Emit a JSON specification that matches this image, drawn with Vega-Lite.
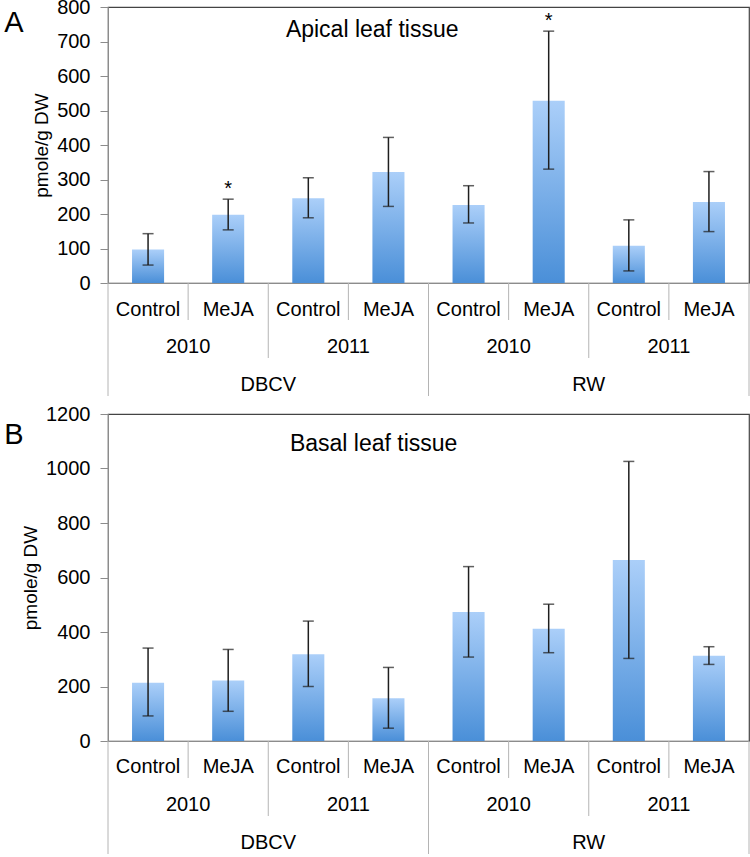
{
  "$schema": "https://vega.github.io/schema/vega-lite/v6.json",
  "background": "white",
  "padding": {"left": 3, "top": -4, "right": 0, "bottom": 0},
  "config": {
    "font": "Liberation Sans",
    "view": {"stroke": "#444", "strokeWidth": 1.2},
    "axis": {"grid": false},
    "axisY": {"titleFontSize": 19, "titleFontWeight": "normal", "titleColor": "#000", "titlePadding": 5, "labelFontSize": 20, "labelColor": "#000", "labelPadding": 10, "tickSize": 8, "tickColor": "#8c8c8c", "domainColor": "#8c8c8c", "labelOverlap": false, "format": "d", "tickCount": 30}
  },
  "datasets": {
    "apical": [
      {"cultivar": "DBCV", "year": "2010", "treatment": "Control", "key": "DBCV 2010 Control", "value": 97, "lo": 52, "hi": 143, "star": ""},
      {"cultivar": "DBCV", "year": "2010", "treatment": "MeJA", "key": "DBCV 2010 MeJA", "value": 198, "lo": 154, "hi": 243, "star": "*"},
      {"cultivar": "DBCV", "year": "2011", "treatment": "Control", "key": "DBCV 2011 Control", "value": 246, "lo": 189, "hi": 305, "star": ""},
      {"cultivar": "DBCV", "year": "2011", "treatment": "MeJA", "key": "DBCV 2011 MeJA", "value": 322, "lo": 222, "hi": 422, "star": ""},
      {"cultivar": "RW", "year": "2010", "treatment": "Control", "key": "RW 2010 Control", "value": 226, "lo": 174, "hi": 282, "star": ""},
      {"cultivar": "RW", "year": "2010", "treatment": "MeJA", "key": "RW 2010 MeJA", "value": 528, "lo": 330, "hi": 730, "star": "*"},
      {"cultivar": "RW", "year": "2011", "treatment": "Control", "key": "RW 2011 Control", "value": 108, "lo": 35, "hi": 183, "star": ""},
      {"cultivar": "RW", "year": "2011", "treatment": "MeJA", "key": "RW 2011 MeJA", "value": 235, "lo": 149, "hi": 323, "star": ""}
    ],
    "basal": [
      {"cultivar": "DBCV", "year": "2010", "treatment": "Control", "key": "DBCV 2010 Control", "value": 214, "lo": 92, "hi": 341, "star": ""},
      {"cultivar": "DBCV", "year": "2010", "treatment": "MeJA", "key": "DBCV 2010 MeJA", "value": 222, "lo": 109, "hi": 336, "star": ""},
      {"cultivar": "DBCV", "year": "2011", "treatment": "Control", "key": "DBCV 2011 Control", "value": 318, "lo": 200, "hi": 440, "star": ""},
      {"cultivar": "DBCV", "year": "2011", "treatment": "MeJA", "key": "DBCV 2011 MeJA", "value": 157, "lo": 47, "hi": 270, "star": ""},
      {"cultivar": "RW", "year": "2010", "treatment": "Control", "key": "RW 2010 Control", "value": 473, "lo": 308, "hi": 640, "star": ""},
      {"cultivar": "RW", "year": "2010", "treatment": "MeJA", "key": "RW 2010 MeJA", "value": 412, "lo": 324, "hi": 502, "star": ""},
      {"cultivar": "RW", "year": "2011", "treatment": "Control", "key": "RW 2011 Control", "value": 664, "lo": 303, "hi": 1026, "star": ""},
      {"cultivar": "RW", "year": "2011", "treatment": "MeJA", "key": "RW 2011 MeJA", "value": 313, "lo": 281, "hi": 346, "star": ""}
    ]
  },
  "resolve": {"scale": {"x": "independent", "y": "independent"}},
  "spacing": 5,
  "vconcat": [
    {
      "width": 641,
      "height": 276,
      "data": {"name": "apical"},
      "encoding": {
        "x": {"field": "key", "type": "nominal", "scale": {"domain": ["DBCV 2010 Control", "DBCV 2010 MeJA", "DBCV 2011 Control", "DBCV 2011 MeJA", "RW 2010 Control", "RW 2010 MeJA", "RW 2011 Control", "RW 2011 MeJA"], "paddingInner": 0, "paddingOuter": 0}, "axis": {"labels": false, "ticks": false, "title": null, "domainColor": "#8c8c8c"}},
        "y": {"field": "value", "type": "quantitative", "scale": {"domain": [0, 800], "nice": false}, "axis": {"values": [0, 100, 200, 300, 400, 500, 600, 700, 800], "tickCount": 30, "title": "pmole/g DW"}}
      },
      "layer": [
        {
          "mark": {"type": "bar", "width": {"band": 0.4}, "fill": {"gradient": "linear", "x1": 0, "y1": 0, "x2": 0, "y2": 1, "stops": [{"offset": 0, "color": "#abcff9"}, {"offset": 1, "color": "#4a8fd8"}]}}
        },
        {
          "mark": {"type": "rule", "color": "#1e1e1e", "strokeWidth": 1.5},
          "encoding": {"y": {"field": "lo", "type": "quantitative"}, "y2": {"field": "hi"}}
        },
        {
          "mark": {"type": "tick", "orient": "horizontal", "size": 11, "thickness": 1.5, "color": "#1e1e1e"},
          "encoding": {"y": {"field": "lo", "type": "quantitative"}}
        },
        {
          "mark": {"type": "tick", "orient": "horizontal", "size": 11, "thickness": 1.5, "color": "#1e1e1e"},
          "encoding": {"y": {"field": "hi", "type": "quantitative"}}
        },
        {
          "transform": [{"filter": "datum.star != ''"}],
          "mark": {"type": "text", "fontSize": 20, "baseline": "alphabetic", "dy": -4, "color": "#000"},
          "encoding": {"y": {"field": "hi", "type": "quantitative"}, "text": {"field": "star"}}
        },
        {
          "mark": {"type": "text", "fontSize": 20, "baseline": "alphabetic", "dy": 32.7, "color": "#000"},
          "encoding": {"y": {"datum": 0}, "text": {"field": "treatment"}}
        },
        {
          "transform": [{"filter": "datum.treatment == 'Control'"}],
          "mark": {"type": "text", "fontSize": 20, "baseline": "alphabetic", "dy": 70, "color": "#000"},
          "encoding": {"x": {"field": "key", "type": "nominal", "bandPosition": 1}, "y": {"datum": 0}, "text": {"field": "year"}}
        },
        {
          "transform": [{"filter": "datum.year == '2010' && datum.treatment == 'MeJA'"}],
          "mark": {"type": "text", "fontSize": 20, "baseline": "alphabetic", "dy": 108, "color": "#000"},
          "encoding": {"x": {"field": "key", "type": "nominal", "bandPosition": 1}, "y": {"datum": 0}, "text": {"field": "cultivar"}}
        },
        {
          "transform": [{"filter": "datum.treatment == 'MeJA'"}],
          "mark": {"type": "rule", "color": "#b4b4b4", "strokeWidth": 1, "y2Offset": 37},
          "encoding": {"x": {"field": "key", "type": "nominal", "bandPosition": 0}, "y": {"datum": 0}, "y2": {"datum": 0}}
        },
        {
          "transform": [{"filter": "datum.year == '2011' && datum.treatment == 'Control'"}],
          "mark": {"type": "rule", "color": "#b4b4b4", "strokeWidth": 1, "y2Offset": 75},
          "encoding": {"x": {"field": "key", "type": "nominal", "bandPosition": 0}, "y": {"datum": 0}, "y2": {"datum": 0}}
        },
        {
          "transform": [{"filter": "datum.year == '2010' && datum.treatment == 'Control'"}],
          "mark": {"type": "rule", "color": "#b4b4b4", "strokeWidth": 1, "y2Offset": 113},
          "encoding": {"x": {"field": "key", "type": "nominal", "bandPosition": 0}, "y": {"datum": 0}, "y2": {"datum": 0}}
        },
        {
          "transform": [{"filter": "datum.cultivar == 'RW' && datum.year == '2011' && datum.treatment == 'MeJA'"}],
          "mark": {"type": "rule", "color": "#b4b4b4", "strokeWidth": 1, "y2Offset": 113},
          "encoding": {"x": {"field": "key", "type": "nominal", "bandPosition": 1}, "y": {"datum": 0}, "y2": {"datum": 0}}
        },
        {
          "transform": [{"filter": "datum.key == 'DBCV 2011 Control'"}],
          "mark": {"type": "text", "fontSize": 23, "align": "left", "baseline": "alphabetic", "color": "#000", "text": "Apical leaf tissue"},
          "encoding": {"x": {"field": "key", "type": "nominal", "bandPosition": 0.22}, "y": {"datum": 712}}
        },
        {
          "transform": [{"filter": "datum.key == 'DBCV 2010 Control'"}],
          "mark": {"type": "text", "fontSize": 29, "align": "center", "baseline": "alphabetic", "dx": -94, "dy": 25.3, "color": "#000", "text": "A"},
          "encoding": {"x": {"field": "key", "type": "nominal", "bandPosition": 0}, "y": {"datum": 800}}
        }
      ]
    },
    {
      "width": 641,
      "height": 327,
      "data": {"name": "basal"},
      "encoding": {
        "x": {"field": "key", "type": "nominal", "scale": {"domain": ["DBCV 2010 Control", "DBCV 2010 MeJA", "DBCV 2011 Control", "DBCV 2011 MeJA", "RW 2010 Control", "RW 2010 MeJA", "RW 2011 Control", "RW 2011 MeJA"], "paddingInner": 0, "paddingOuter": 0}, "axis": {"labels": false, "ticks": false, "title": null, "domainColor": "#8c8c8c"}},
        "y": {"field": "value", "type": "quantitative", "scale": {"domain": [0, 1200], "nice": false}, "axis": {"values": [0, 200, 400, 600, 800, 1000, 1200], "tickCount": 30, "title": "pmole/g DW"}}
      },
      "layer": [
        {
          "mark": {"type": "bar", "width": {"band": 0.4}, "fill": {"gradient": "linear", "x1": 0, "y1": 0, "x2": 0, "y2": 1, "stops": [{"offset": 0, "color": "#abcff9"}, {"offset": 1, "color": "#4a8fd8"}]}}
        },
        {
          "mark": {"type": "rule", "color": "#1e1e1e", "strokeWidth": 1.5},
          "encoding": {"y": {"field": "lo", "type": "quantitative"}, "y2": {"field": "hi"}}
        },
        {
          "mark": {"type": "tick", "orient": "horizontal", "size": 11, "thickness": 1.5, "color": "#1e1e1e"},
          "encoding": {"y": {"field": "lo", "type": "quantitative"}}
        },
        {
          "mark": {"type": "tick", "orient": "horizontal", "size": 11, "thickness": 1.5, "color": "#1e1e1e"},
          "encoding": {"y": {"field": "hi", "type": "quantitative"}}
        },
        {
          "mark": {"type": "text", "fontSize": 20, "baseline": "alphabetic", "dy": 31.6, "color": "#000"},
          "encoding": {"y": {"datum": 0}, "text": {"field": "treatment"}}
        },
        {
          "transform": [{"filter": "datum.treatment == 'Control'"}],
          "mark": {"type": "text", "fontSize": 20, "baseline": "alphabetic", "dy": 70, "color": "#000"},
          "encoding": {"x": {"field": "key", "type": "nominal", "bandPosition": 1}, "y": {"datum": 0}, "text": {"field": "year"}}
        },
        {
          "transform": [{"filter": "datum.year == '2010' && datum.treatment == 'MeJA'"}],
          "mark": {"type": "text", "fontSize": 20, "baseline": "alphabetic", "dy": 108, "color": "#000"},
          "encoding": {"x": {"field": "key", "type": "nominal", "bandPosition": 1}, "y": {"datum": 0}, "text": {"field": "cultivar"}}
        },
        {
          "transform": [{"filter": "datum.treatment == 'MeJA'"}],
          "mark": {"type": "rule", "color": "#b4b4b4", "strokeWidth": 1, "y2Offset": 37},
          "encoding": {"x": {"field": "key", "type": "nominal", "bandPosition": 0}, "y": {"datum": 0}, "y2": {"datum": 0}}
        },
        {
          "transform": [{"filter": "datum.year == '2011' && datum.treatment == 'Control'"}],
          "mark": {"type": "rule", "color": "#b4b4b4", "strokeWidth": 1, "y2Offset": 75},
          "encoding": {"x": {"field": "key", "type": "nominal", "bandPosition": 0}, "y": {"datum": 0}, "y2": {"datum": 0}}
        },
        {
          "transform": [{"filter": "datum.year == '2010' && datum.treatment == 'Control'"}],
          "mark": {"type": "rule", "color": "#b4b4b4", "strokeWidth": 1, "y2Offset": 113},
          "encoding": {"x": {"field": "key", "type": "nominal", "bandPosition": 0}, "y": {"datum": 0}, "y2": {"datum": 0}}
        },
        {
          "transform": [{"filter": "datum.cultivar == 'RW' && datum.year == '2011' && datum.treatment == 'MeJA'"}],
          "mark": {"type": "rule", "color": "#b4b4b4", "strokeWidth": 1, "y2Offset": 113},
          "encoding": {"x": {"field": "key", "type": "nominal", "bandPosition": 1}, "y": {"datum": 0}, "y2": {"datum": 0}}
        },
        {
          "transform": [{"filter": "datum.key == 'DBCV 2011 Control'"}],
          "mark": {"type": "text", "fontSize": 23, "align": "left", "baseline": "alphabetic", "color": "#000", "text": "Basal leaf tissue"},
          "encoding": {"x": {"field": "key", "type": "nominal", "bandPosition": 0.27}, "y": {"datum": 1063}}
        },
        {
          "transform": [{"filter": "datum.key == 'DBCV 2010 Control'"}],
          "mark": {"type": "text", "fontSize": 29, "align": "center", "baseline": "alphabetic", "dx": -94, "dy": 30, "color": "#000", "text": "B"},
          "encoding": {"x": {"field": "key", "type": "nominal", "bandPosition": 0}, "y": {"datum": 1200}}
        }
      ]
    }
  ]
}
